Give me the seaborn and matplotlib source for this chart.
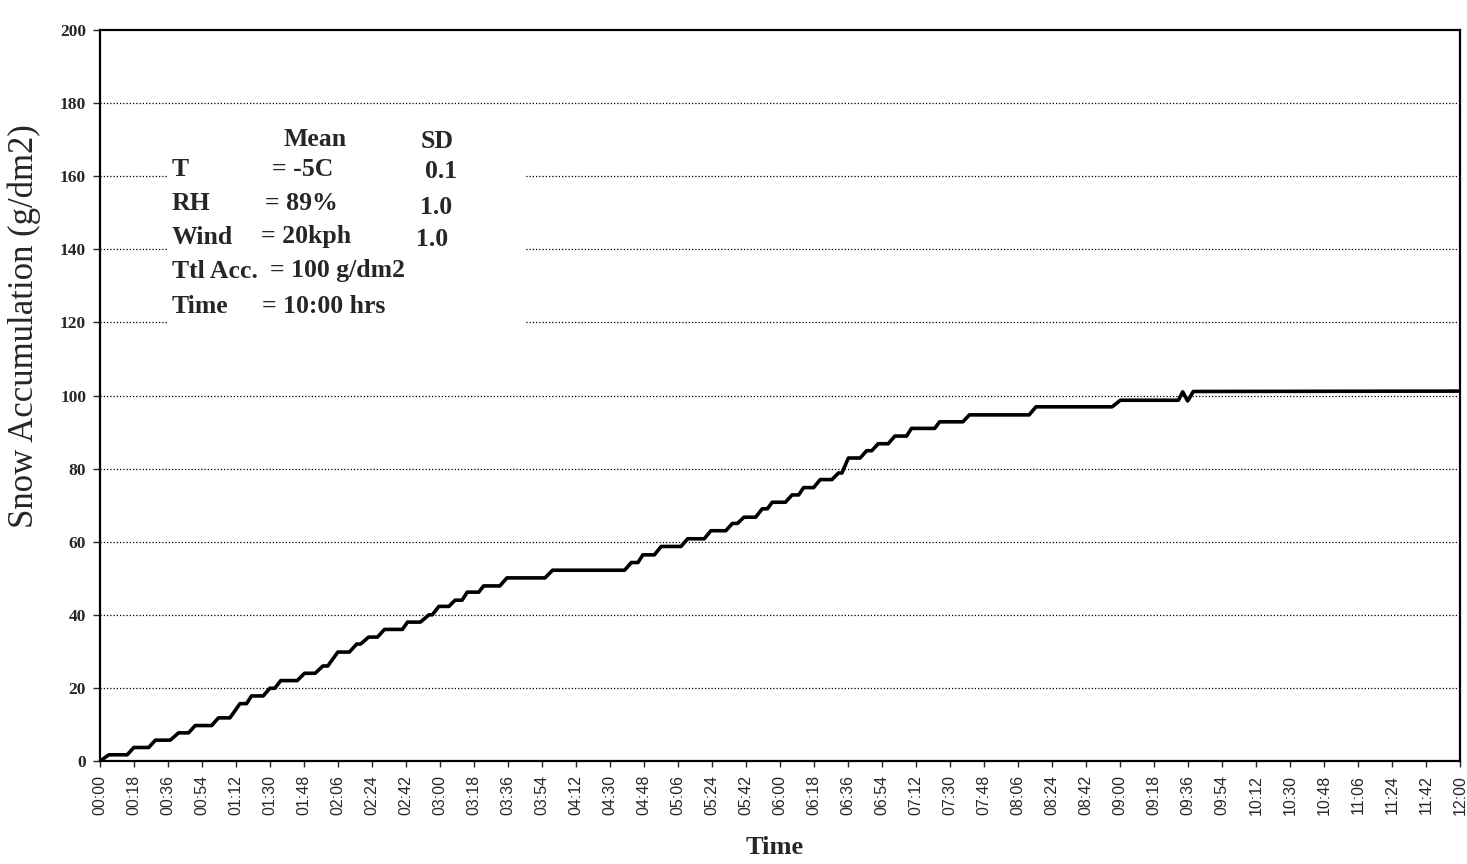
import matplotlib
matplotlib.use("Agg")
import matplotlib.pyplot as plt
from matplotlib.patches import Rectangle
import numpy as np
import pandas as pd
import seaborn as sns

# Elapsed time (minutes from start) and cumulative snow accumulation (g/dm2)
minutes = [0, 4.7, 14.4, 17.9, 25.8, 29.3, 37.2, 41.6, 46.9, 50.4, 59.1, 62.7, 68.8,
           74.1, 77.6, 80.2, 86.4, 89.9, 92.5, 95.7, 104.4, 108.3, 113.9, 118.0, 120.6,
           125.9, 132.0, 135.9, 138.0, 142.2, 146.9, 150.6, 160.1, 162.8, 169.6, 174.2,
           175.9, 179.4, 184.7, 188.0, 191.7, 194.4, 200.5, 203.1, 211.7, 215.4, 235.6,
           239.6, 277.7, 281.3, 284.8, 287.4, 293.5, 297.1, 307.6, 311.1, 319.9, 323.4,
           331.3, 334.8, 337.5, 340.9, 347.1, 350.6, 353.3, 355.9, 362.9, 366.4, 369.9,
           372.5, 377.8, 381.3, 387.5, 391.0, 392.8, 396.2, 402.4, 405.9, 408.6, 412.0,
           417.3, 420.8, 427.0, 429.6, 441.9, 444.5, 456.8, 460.3, 491.9, 495.5, 535.8,
           540.2, 570.9, 573.2, 575.8, 578.8, 720]
accumulation = [0, 1.7, 1.7, 3.7, 3.7, 5.7, 5.7, 7.7, 7.7, 9.7, 9.7, 11.8, 11.8,
                15.7, 15.7, 17.8, 17.8, 19.9, 19.9, 22.0, 22.0, 24.0, 24.0, 26.0, 26.0,
                29.8, 29.8, 32.0, 32.0, 33.9, 33.9, 36.0, 36.0, 38.0, 38.0, 40.0,
                40.0, 42.3, 42.3, 44.0, 44.0, 46.2, 46.2, 47.9, 47.9, 50.1, 50.1,
                52.2, 52.2, 54.3, 54.3, 56.4, 56.4, 58.7, 58.7, 60.8, 60.8, 63.0,
                63.0, 65.0, 65.0, 66.7, 66.7, 69.0, 69.0, 70.8, 70.8, 72.8, 72.8,
                74.8, 74.8, 77.0, 77.0, 78.8, 78.8, 82.9, 82.9, 84.9, 84.9, 86.8,
                86.8, 88.9, 88.9, 91.0, 91.0, 92.8, 92.8, 94.7, 94.7, 96.9, 96.9,
                98.7, 98.7, 101.0, 98.5, 101.1, 101.2]

# Axis ticks
x_ticks = list(range(0, 721, 18))
x_tick_labels = [f"{m // 60:02d}:{m % 60:02d}" for m in x_ticks]
y_ticks = [0, 20, 40, 60, 80, 100, 120, 140, 160, 180, 200]

# Test conditions summary
summary_header = ["Mean", "SD"]
summary_names = ["T", "RH", "Wind", "Ttl Acc.", "Time"]
summary_means = ["= -5C", "= 89%", "= 20kph", "= 100 g/dm2", "= 10:00 hrs"]
summary_sds = ["0.1", "1.0", "1.0"]

df = pd.DataFrame({"minutes": minutes, "accumulation": accumulation})

sns.set_style("white")
plt.rcParams["font.family"] = ["Liberation Serif", "DejaVu Serif"]

W, H = 1467, 864
fig = plt.figure(figsize=(W / 100, H / 100), dpi=100)
ax_l, ax_r, ax_t, ax_b = 100, 1460, 30, 761
ax = fig.add_axes([ax_l / W, 1 - ax_b / H, (ax_r - ax_l) / W, (ax_b - ax_t) / H])

sns.lineplot(data=df, x="minutes", y="accumulation", ax=ax, color="black",
             linewidth=2.6, zorder=4)

ax.set_xlim(0, 720)
ax.set_ylim(0, 200)

# Dotted horizontal gridlines
for yv in y_ticks[1:-1]:
    ax.axhline(yv, color="black", linewidth=0.9, linestyle=(0, (1, 1.6)), zorder=1)

for side in ["left", "right", "top", "bottom"]:
    ax.spines[side].set_visible(True)
    ax.spines[side].set_color("black")
    ax.spines[side].set_linewidth(1.6)

ax.set_yticks(y_ticks)
ax.set_yticklabels([str(v) for v in y_ticks], fontsize=12.5, fontweight="bold")
ax.set_xticks(x_ticks)
ax.set_xticklabels(x_tick_labels, rotation=90, fontsize=11.5,
                   family=["Liberation Sans", "DejaVu Sans"])
ax.tick_params(axis="y", direction="out", length=5, width=1, pad=5, left=True)
ax.tick_params(axis="x", direction="out", length=4, width=1, pad=6, bottom=True)

ax.set_xlabel("")
ax.set_ylabel("Snow Accumulation (g/dm2)", fontsize=25)
ax.yaxis.set_label_coords((41 - ax_l) / (ax_r - ax_l), (ax_b - 326) / (ax_b - ax_t))

fig.text(775 / W, 1 - 848 / H, "Time", ha="center", va="center",
         fontsize=19, fontweight="bold")

# Conditions box: white panel over the gridlines with a small table of text
def fx(px):
    return px / W

def fy(py):
    return 1 - py / H

ax.add_patch(Rectangle((fx(168), fy(326)), fx(525) - fx(168), fy(122) - fy(326),
                       transform=fig.transFigure, facecolor="white",
                       edgecolor="none", zorder=2))

txt = dict(fontsize=18.5, fontweight="bold", va="center", zorder=3,
           transform=fig.transFigure)
ax.text(fx(315), fy(139), summary_header[0], ha="center", **txt)
ax.text(fx(437), fy(141), summary_header[1], ha="center", **txt)

row_y = [169, 204, 237, 271, 306]
mean_x = [272, 265, 261, 270, 262]
sd_x = [425, 420, 416]
for i, name in enumerate(summary_names):
    ax.text(fx(172), fy(row_y[i]), name, ha="left", **txt)
    ax.text(fx(mean_x[i]), fy(row_y[i]), summary_means[i], ha="left", **txt)
for i, sd in enumerate(summary_sds):
    ax.text(fx(sd_x[i]), fy(row_y[i] + 3), sd, ha="left", **txt)

fig.savefig("out.png", dpi=100, facecolor="white")
